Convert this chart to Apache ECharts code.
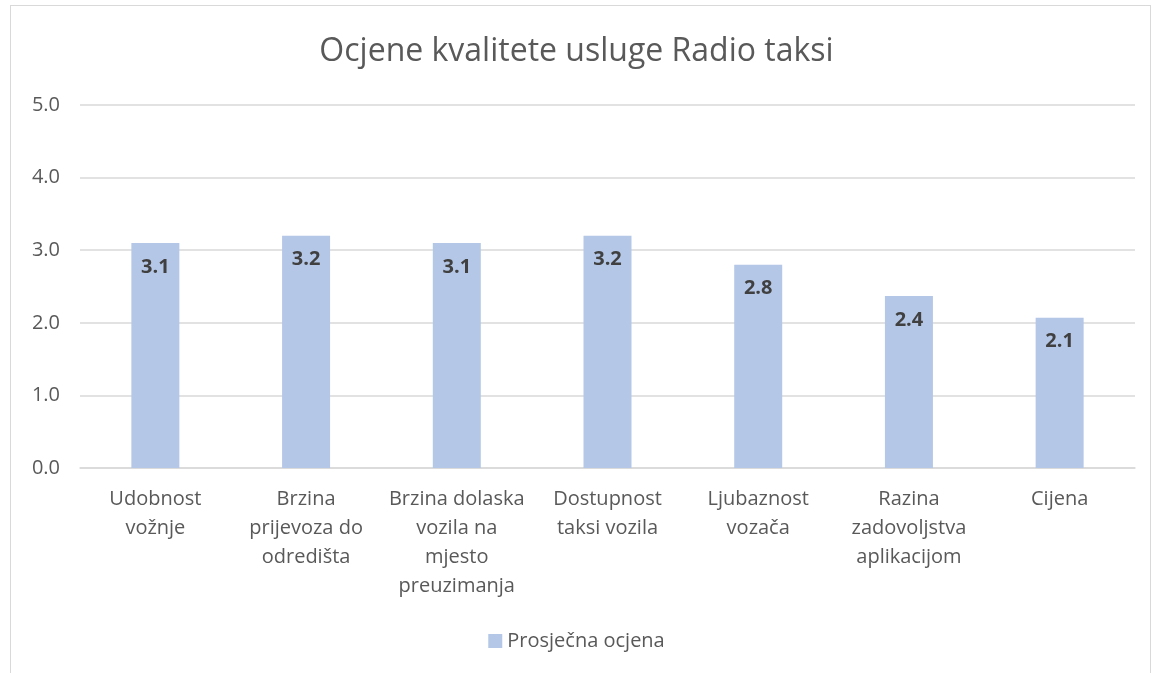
<!DOCTYPE html>
<html>
<head>
<meta charset="utf-8">
<script src="https://cdn.jsdelivr.net/npm/echarts@6/dist/echarts.min.js"></script>
<style>
html,body{margin:0;padding:0;background:#fff;}
#frame{position:absolute;left:10px;top:5px;width:1141px;height:680px;border:1px solid #d9d9d9;box-sizing:border-box;}
#c{position:absolute;left:0;top:0;width:1153px;height:673px;}
</style>
</head>
<body>
<div id="frame"></div>
<div id="c"></div>
<script>
const titleText = 'Ocjene kvalitete usluge Radio taksi';
const categories = ['Udobnost\nvožnje', 'Brzina\nprijevoza do\nodredišta', 'Brzina dolaska\nvozila na\nmjesto\npreuzimanja', 'Dostupnost\ntaksi vozila', 'Ljubaznost\nvozača', 'Razina\nzadovoljstva\naplikacijom', 'Cijena'];
const seriesName = 'Prosječna ocjena';
const values = [3.1, 3.2, 3.1, 3.2, 2.8, 2.37, 2.07];

const font = '"Open Sans", "Noto Sans", sans-serif';
const chart = echarts.init(document.getElementById('c'));
chart.setOption({
  animation: false,
  textStyle: {fontFamily: font},
  title: {
    text: titleText, left: 'center', top: 31,
    textStyle: {fontSize: 32, fontWeight: 'normal', color: '#595959', fontFamily: font}
  },
  legend: {
    bottom: 17, left: 'center', itemWidth: 14, itemHeight: 14, itemGap: 8,
    icon: 'rect',
    textStyle: {fontSize: 20, color: '#595959', fontFamily: font},
    data: [seriesName]
  },
  grid: {left: 80, right: 18, top: 105, bottom: 205, containLabel: false},
  xAxis: {
    type: 'category', data: categories,
    axisLine: {lineStyle: {color: '#d9d9d9', width: 1.5}},
    axisTick: {show: false},
    axisLabel: {fontSize: 20, color: '#595959', lineHeight: 29, margin: 17, interval: 0, fontFamily: font}
  },
  yAxis: {
    type: 'value', min: 0, max: 5, interval: 1,
    axisLine: {show: false}, axisTick: {show: false},
    splitLine: {lineStyle: {color: '#d9d9d9', width: 1.5}},
    axisLabel: {fontSize: 20, color: '#595959', margin: 20, formatter: v => v.toFixed(1), fontFamily: font}
  },
  series: [{
    name: seriesName, type: 'bar', data: values, barWidth: 48,
    itemStyle: {color: '#b4c7e7'},
    label: {
      show: true, position: 'insideTop', distance: 14,
      fontSize: 20, fontWeight: 'bold', color: '#404040', fontFamily: font,
      formatter: p => p.value.toFixed(1)
    }
  }]
});
</script>
</body>
</html>
